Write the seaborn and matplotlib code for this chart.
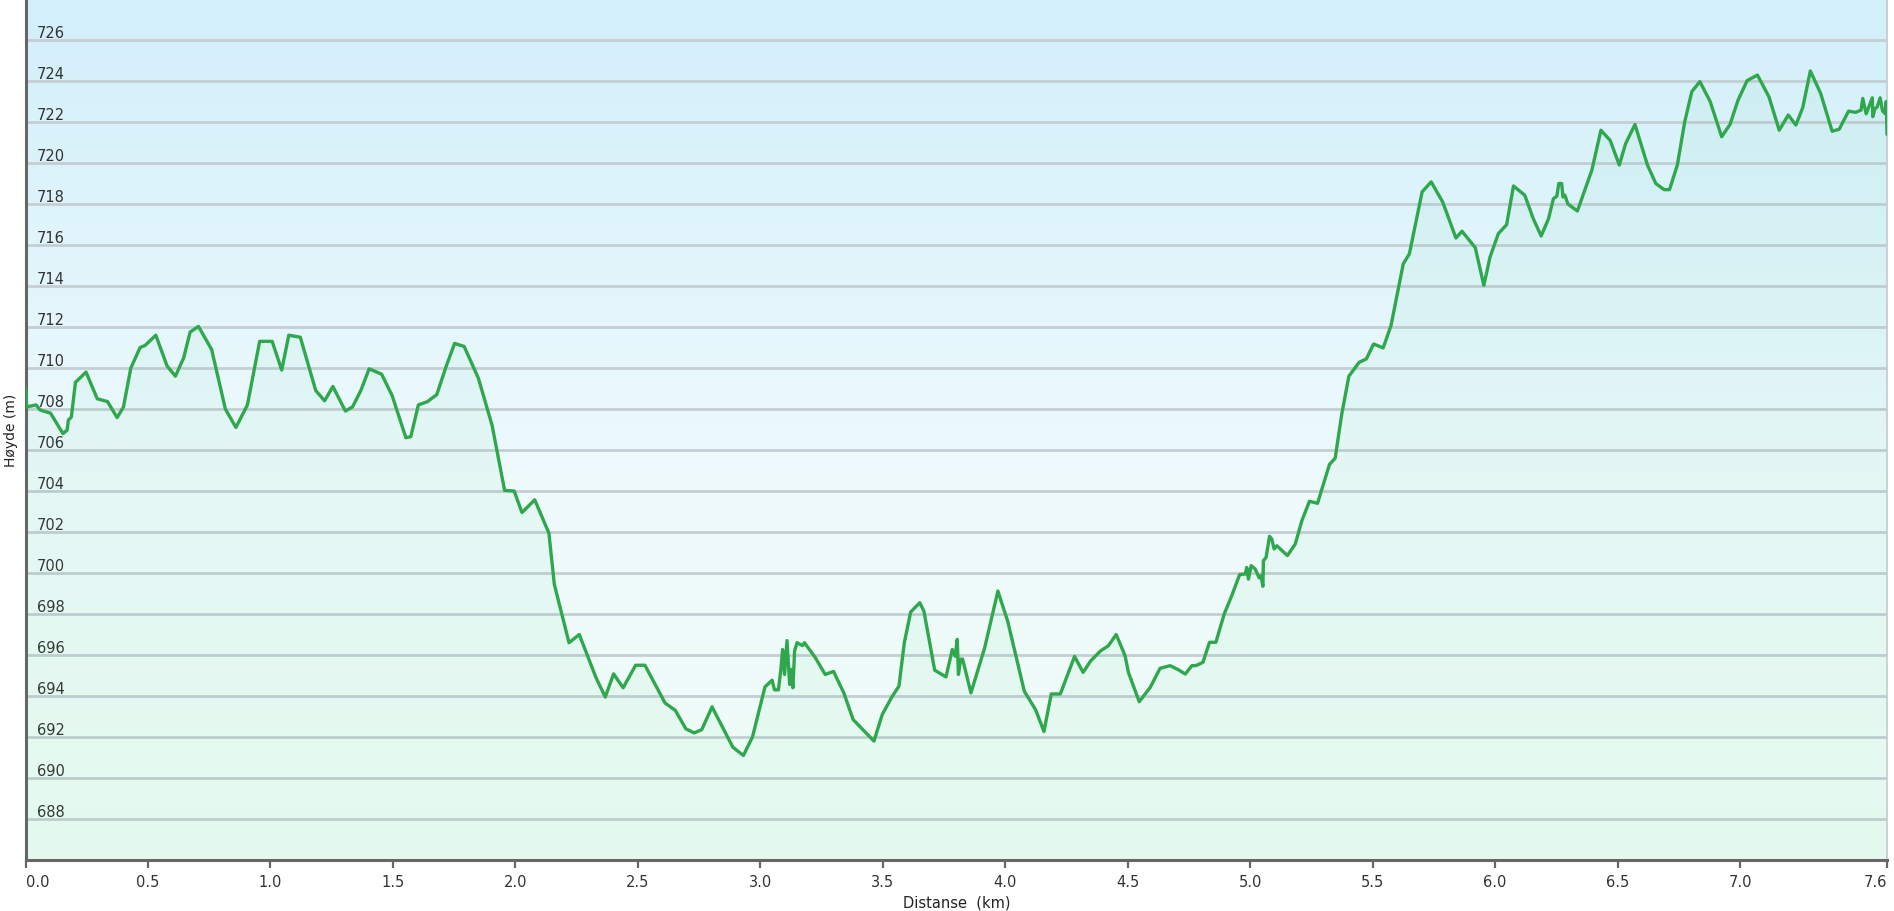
import numpy as np
import matplotlib
matplotlib.use("Agg")
import matplotlib.pyplot as plt
from matplotlib.colors import LinearSegmentedColormap
import seaborn as sns

# hoydeprofil lest av bildet
distanse_km = [
    0.000, 0.005, 0.043, 0.060, 0.102, 0.153, 0.170, 0.175, 0.187, 0.204,
    0.247, 0.293, 0.335, 0.374, 0.400, 0.430, 0.468, 0.488, 0.532, 0.578,
    0.612, 0.646, 0.672, 0.706, 0.760, 0.816, 0.859, 0.906, 0.930, 0.956,
    1.007, 1.046, 1.075, 1.122, 1.185, 1.221, 1.255, 1.306, 1.335, 1.369,
    1.403, 1.454, 1.497, 1.553, 1.573, 1.604, 1.641, 1.679, 1.718, 1.752,
    1.791, 1.849, 1.905, 1.956, 1.995, 2.027, 2.079, 2.137, 2.159, 2.219,
    2.261, 2.329, 2.367, 2.401, 2.440, 2.491, 2.529, 2.611, 2.653, 2.696,
    2.730, 2.761, 2.803, 2.888, 2.931, 2.968, 3.019, 3.048, 3.058, 3.074,
    3.084, 3.091, 3.099, 3.109, 3.120, 3.126, 3.133, 3.140, 3.150, 3.172,
    3.180, 3.223, 3.265, 3.299, 3.341, 3.379, 3.464, 3.498, 3.537, 3.566,
    3.588, 3.614, 3.651, 3.668, 3.712, 3.758, 3.784, 3.796, 3.804, 3.809,
    3.818, 3.826, 3.860, 3.916, 3.970, 4.010, 4.078, 4.124, 4.158, 4.188,
    4.225, 4.283, 4.318, 4.348, 4.389, 4.421, 4.453, 4.489, 4.503, 4.547,
    4.592, 4.632, 4.673, 4.707, 4.735, 4.762, 4.778, 4.807, 4.834, 4.860,
    4.894, 4.925, 4.957, 4.980, 4.986, 4.993, 5.004, 5.020, 5.037, 5.044,
    5.052, 5.054, 5.065, 5.079, 5.088, 5.098, 5.109, 5.152, 5.184, 5.211,
    5.242, 5.275, 5.324, 5.347, 5.374, 5.403, 5.445, 5.474, 5.504, 5.543,
    5.575, 5.625, 5.650, 5.702, 5.739, 5.786, 5.840, 5.865, 5.919, 5.954,
    5.979, 6.013, 6.047, 6.075, 6.121, 6.156, 6.188, 6.218, 6.238, 6.252,
    6.260, 6.272, 6.277, 6.285, 6.297, 6.336, 6.361, 6.395, 6.432, 6.470,
    6.507, 6.533, 6.571, 6.622, 6.656, 6.690, 6.712, 6.744, 6.774, 6.803,
    6.836, 6.878, 6.925, 6.959, 6.992, 7.029, 7.071, 7.118, 7.160, 7.197,
    7.228, 7.256, 7.287, 7.329, 7.376, 7.405, 7.443, 7.472, 7.494, 7.501,
    7.515, 7.526, 7.540, 7.542, 7.550, 7.560, 7.572, 7.582, 7.592, 7.597,
    7.600,
]
hoyde_m = [
    709.0, 708.1, 708.2, 707.95, 707.8, 706.8, 706.97, 707.46, 707.6, 709.3,
    709.8, 708.5, 708.36, 707.58, 708.1, 710.0, 711.0, 711.1, 711.6, 710.1,
    709.6, 710.5, 711.75, 712.03, 710.9, 708.0, 707.1, 708.2, 709.7, 711.3,
    711.3, 709.9, 711.6, 711.5, 708.9, 708.4, 709.1, 707.9, 708.1, 708.9,
    709.96, 709.7, 708.65, 706.6, 706.65, 708.2, 708.36, 708.7, 710.1, 711.2,
    711.05, 709.5, 707.2, 704.03, 704.0, 702.95, 703.57, 701.94, 699.45, 696.6,
    697.0, 694.9, 693.95, 695.08, 694.4, 695.5, 695.5, 693.66, 693.3, 692.4,
    692.2, 692.36, 693.47, 691.5, 691.1, 692.0, 694.44, 694.77, 694.3, 694.3,
    695.3, 696.27, 695.05, 696.7, 694.56, 695.3, 694.4, 696.2, 696.6, 696.46,
    696.6, 695.9, 695.05, 695.2, 694.15, 692.85, 691.8, 693.1, 693.95, 694.48,
    696.6, 698.1, 698.55, 698.14, 695.26, 694.93, 696.27, 695.94, 696.76, 695.05,
    695.8, 695.8, 694.15, 696.35, 699.12, 697.65, 694.23, 693.33, 692.27, 694.1,
    694.1, 695.93, 695.15, 695.7, 696.2, 696.45, 697.0, 695.97, 695.15, 693.72,
    694.42, 695.35, 695.48, 695.28, 695.07, 695.48, 695.48, 695.64, 696.62, 696.62,
    698.0, 698.9, 699.92, 699.95, 700.27, 699.7, 700.36, 700.2, 699.76, 699.87,
    699.35, 700.6, 700.76, 701.79, 701.66, 701.17, 701.33, 700.85, 701.41, 702.55,
    703.5, 703.4, 705.3, 705.6, 707.76, 709.6, 710.28, 710.44, 711.17, 710.98,
    712.07, 715.08, 715.57, 718.59, 719.08, 718.1, 716.34, 716.67, 715.87, 714.03,
    715.4, 716.55, 716.99, 718.88, 718.43, 717.28, 716.44, 717.28, 718.26, 718.38,
    719.0, 719.0, 718.34, 718.43, 718.0, 717.66, 718.5, 719.65, 721.6, 721.1,
    719.9, 720.95, 721.88, 719.9, 719.0, 718.7, 718.7, 719.9, 722.0, 723.48,
    723.97, 723.0, 721.28, 721.88, 723.07, 724.02, 724.29, 723.23, 721.6, 722.34,
    721.85, 722.7, 724.49, 723.4, 721.55, 721.65, 722.53, 722.47, 722.58, 723.15,
    722.4, 722.74, 723.18, 722.26, 722.63, 722.74, 723.18, 722.53, 722.42, 723.0,
    721.4,
]

x_ticks = [0.0, 0.5, 1.0, 1.5, 2.0, 2.5, 3.0, 3.5, 4.0, 4.5, 5.0, 5.5, 6.0, 6.5, 7.0, 7.6]
x_tick_labels = ["0.0", "0.5", "1.0", "1.5", "2.0", "2.5", "3.0", "3.5",
                 "4.0", "4.5", "5.0", "5.5", "6.0", "6.5", "7.0", "7.6"]
y_ticks = list(range(688, 727, 2))

sns.set_style("white")
plt.rcParams['font.family'] = ['DejaVu Sans']

fig = plt.figure(figsize=(18.94, 9.12), dpi=100)
ax = fig.add_axes([25.5 / 1894, 51 / 912, 1861.5 / 1894, 861 / 912])

# bakgrunn: blaa oppe, hvit i midten, lysegronn nede
bg = LinearSegmentedColormap.from_list(
    "bg", [(0.0, "#effdf5"), (0.45, "#eefafd"), (1.0, "#d2effa")])
grad = np.linspace(0, 1, 256).reshape(-1, 1)
ax.imshow(grad, cmap=bg, aspect="auto", extent=[0, 1, 0, 1],
          transform=ax.transAxes, origin="lower", zorder=0)

ax.fill_between(distanse_km, hoyde_m, 686, color="#3cc47c", alpha=0.05, lw=0, zorder=1)
sns.lineplot(x=distanse_km, y=hoyde_m, ax=ax, color="#2fa84d", linewidth=2.4,
             sort=False, estimator=None, zorder=3)

ax.set_xlim(0, 7.6)
ax.set_ylim(686, 728)
ax.set_axisbelow(True)
ax.grid(axis="y", color="#c4ced3", linewidth=2.0)
ax.grid(axis="x", visible=False)

ax.set_xticks(x_ticks)
ax.set_xticklabels(x_tick_labels)
ax.set_yticks(y_ticks)
ax.tick_params(axis="x", direction="out", length=6, width=1.6, color="#666666",
               labelsize=10.5, labelcolor="#333333", pad=4, bottom=True)
ax.tick_params(axis="y", length=0, pad=-8, labelsize=10.5, labelcolor="#333333")
plt.setp(ax.get_yticklabels(), ha="left", va="bottom")
xl = ax.get_xticklabels()
xl[0].set_ha("left")
xl[-1].set_ha("right")

ax.spines["top"].set_visible(False)
ax.spines["right"].set_color("#c4ccd0")
ax.spines["right"].set_linewidth(1.2)
for side in ["left", "bottom"]:
    ax.spines[side].set_color("#666666")
    ax.spines[side].set_linewidth(2.2)

ax.set_xlabel("Distanse  (km)", fontsize=10.5, color="#222222", labelpad=4)
ax.set_ylabel("Høyde (m)", fontsize=10, color="#222222")
ax.yaxis.set_label_coords(-0.004, 0.5)

fig.savefig("out.png", dpi=100, facecolor="white")
